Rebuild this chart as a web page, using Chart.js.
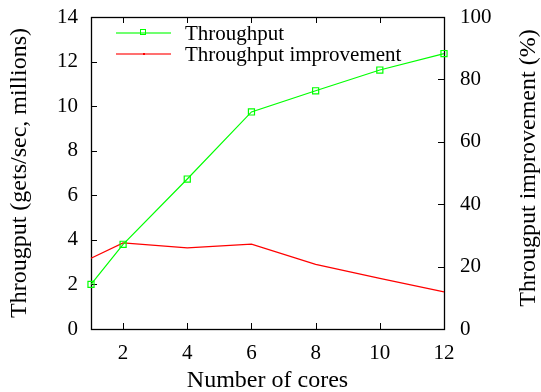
<!DOCTYPE html>
<html>
<head>
<meta charset="utf-8">
<script src="https://cdn.jsdelivr.net/npm/chart.js@4/dist/chart.umd.min.js"></script>
<style>
html,body{margin:0;padding:0;background:#fff;}
#c{display:block;}
</style>
</head>
<body>
<canvas id="c" width="541" height="392"></canvas>
<script>
// ---- data ----
const cores = [1, 2, 4, 6, 8, 10, 12];
const throughput = [2.0, 3.8, 6.73, 9.74, 10.69, 11.62, 12.36];
const improvement = [22.7, 27.6, 26.0, 27.2, 20.7, 16.2, 11.9];
const xTicks = [2, 4, 6, 8, 10, 12];
const yTicks = [0, 2, 4, 6, 8, 10, 12, 14];
const y2Ticks = [0, 20, 40, 60, 80, 100];
const seriesLabels = ["Throughput", "Throughput improvement"];
const xTitle = "Number of cores";
const yTitle = "Througput (gets/sec, millions)";
const y2Title = "Througput improvement (%)";

const FONT = "'Liberation Serif', 'Times New Roman', serif";
const TICK = 6;

const framePlugin = {
  id: 'frame',
  beforeDatasetsDraw(chart) {
    const {ctx, chartArea: a, scales} = chart;
    ctx.save();
    ctx.strokeStyle = '#000';
    ctx.lineWidth = 1;
    ctx.beginPath();
    xTicks.forEach(v => {
      const px = Math.round(scales.x.getPixelForValue(v)) + 0.5;
      ctx.moveTo(px, a.bottom); ctx.lineTo(px, a.bottom - TICK);
      ctx.moveTo(px, a.top); ctx.lineTo(px, a.top + TICK);
    });
    yTicks.forEach(v => {
      const py = Math.round(scales.y.getPixelForValue(v)) + 0.5;
      ctx.moveTo(a.left, py); ctx.lineTo(a.left + TICK, py);
    });
    y2Ticks.forEach(v => {
      const py = Math.round(scales.y2.getPixelForValue(v)) + 0.5;
      ctx.moveTo(a.right, py); ctx.lineTo(a.right - TICK, py);
    });
    ctx.stroke();
    ctx.lineWidth = 1.3;
    ctx.strokeRect(Math.round(a.left) + 0.5, Math.round(a.top) + 0.5,
                   Math.round(a.right - a.left), Math.round(a.bottom - a.top));
    ctx.restore();
  },
  afterDraw(chart) {
    const {ctx, chartArea: a} = chart;
    ctx.save();
    ctx.fillStyle = '#000';
    ctx.font = "24px " + FONT;
    ctx.textAlign = 'center';
    ctx.textBaseline = 'alphabetic';
    ctx.translate(535, (a.top + a.bottom) / 2 - 5);
    ctx.rotate(-Math.PI / 2);
    ctx.fillText(y2Title, 0, 0);
    ctx.restore();

    ctx.save();
    ctx.font = "21px " + FONT;
    ctx.textAlign = 'left';
    ctx.textBaseline = 'alphabetic';
    chart.data.datasets.forEach((ds, i) => {
      const ly = 33 + i * 21;
      ctx.strokeStyle = ds.borderColor;
      ctx.globalAlpha = 0.75;
      ctx.lineWidth = 1.5;
      ctx.beginPath();
      ctx.moveTo(116, ly); ctx.lineTo(171, ly);
      ctx.stroke();
      ctx.globalAlpha = 1;
      if (ds.pointRadius > 0) {
        ctx.lineWidth = 1;
        ctx.strokeRect(140.5, ly - 3.5, 5, 5);
      } else {
        ctx.fillStyle = ds.borderColor;
        ctx.fillRect(143, ly - 1, 2, 2);
      }
      ctx.fillStyle = '#000';
      ctx.fillText(ds.label, 185, ly + 7);
    });
    ctx.restore();
  }
};

const toPts = (ys) => cores.map((c, i) => ({x: c, y: ys[i]}));
const noPadY = (w) => (s) => { s.width = w; s.paddingTop = 0; s.paddingBottom = 0; };

new Chart(document.getElementById('c'), {
  type: 'line',
  data: {
    datasets: [
      {
        label: seriesLabels[0],
        data: toPts(throughput),
        yAxisID: 'y',
        borderColor: '#00ff00',
        backgroundColor: 'rgba(0,0,0,0)',
        borderWidth: 1.2,
        pointStyle: 'rect',
        pointRadius: 4.3,
        pointBorderWidth: 1.2,
        pointBorderColor: '#00ff00',
        pointBackgroundColor: 'rgba(0,0,0,0)',
        tension: 0,
        clip: false
      },
      {
        label: seriesLabels[1],
        data: toPts(improvement),
        yAxisID: 'y2',
        borderColor: '#ff0000',
        backgroundColor: 'rgba(0,0,0,0)',
        borderWidth: 1.2,
        pointRadius: 0,
        tension: 0,
        clip: false
      }
    ]
  },
  options: {
    responsive: false,
    animation: false,
    devicePixelRatio: 1,
    layout: {padding: {top: 17, left: 0, right: 0, bottom: 0}},
    plugins: {legend: {display: false}, tooltip: {enabled: false}},
    scales: {
      x: {
        type: 'linear',
        min: 1, max: 12,
        afterBuildTicks: (s) => { s.ticks = xTicks.map(v => ({value: v})); },
        afterFit: (s) => { s.height = 63; s.paddingLeft = 0; s.paddingRight = 0; },
        grid: {display: false, drawTicks: false},
        border: {display: false},
        ticks: {color: '#000', font: {family: FONT, size: 21}, padding: 12, maxRotation: 0, autoSkip: false},
        title: {display: true, text: xTitle, color: '#000', font: {family: FONT, size: 24}, padding: {top: 0, bottom: -3}}
      },
      y: {
        type: 'linear',
        position: 'left',
        min: 0, max: 14,
        afterBuildTicks: (s) => { s.ticks = yTicks.map(v => ({value: v})); },
        afterFit: noPadY(91),
        grid: {display: false, drawTicks: false},
        border: {display: false},
        ticks: {color: '#000', font: {family: FONT, size: 21}, padding: 13, autoSkip: false},
        title: {display: true, text: yTitle, color: '#000', font: {family: FONT, size: 24}, padding: {top: 5, bottom: 0}}
      },
      y2: {
        type: 'linear',
        position: 'right',
        min: 0, max: 100,
        afterBuildTicks: (s) => { s.ticks = y2Ticks.map(v => ({value: v})); },
        afterFit: noPadY(97),
        grid: {display: false, drawTicks: false},
        border: {display: false},
        ticks: {color: '#000', font: {family: FONT, size: 21}, padding: 16, autoSkip: false}
      }
    }
  },
  plugins: [framePlugin]
});
</script>
</body>
</html>
